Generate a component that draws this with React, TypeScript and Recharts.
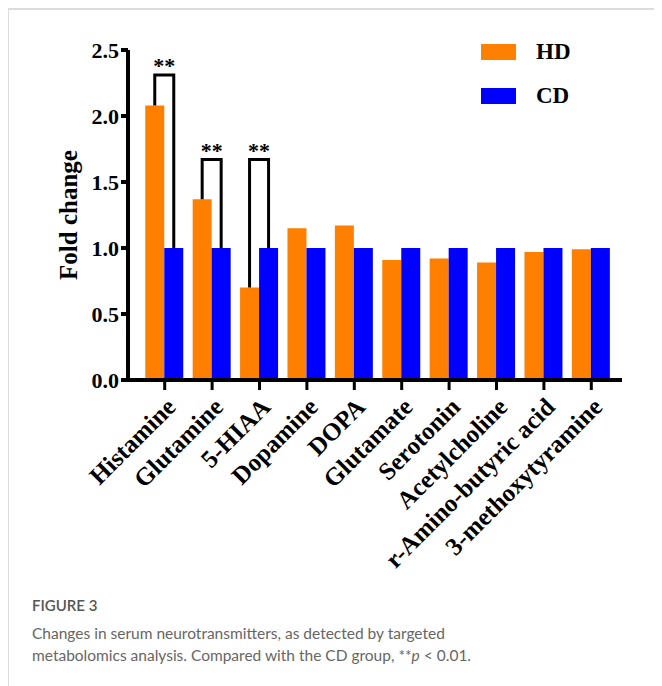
import React from 'react';
import { BarChart, Bar, XAxis, YAxis, LabelList } from 'recharts';

const categories = [
  'Histamine',
  'Glutamine',
  '5-HIAA',
  'Dopamine',
  'DOPA',
  'Glutamate',
  'Serotonin',
  'Acetylcholine',
  'r-Amino-butyric acid',
  '3-methoxytyramine',
];
const hdValues = [2.08, 1.37, 0.7, 1.15, 1.17, 0.91, 0.92, 0.89, 0.97, 0.99];
const cdValues = [1, 1, 1, 1, 1, 1, 1, 1, 1, 1];
// height of the significance bracket (in fold-change units), null = none
const bracketLevels = [2.31, 1.67, 1.67, null, null, null, null, null, null, null];
const sigMarks = ['**', '**', '**', '', '', '', '', '', '', ''];
const yTicks = [0, 0.5, 1.0, 1.5, 2.0, 2.5];
const seriesNames = ['HD', 'CD'];

const HD_COLOR = '#ff7f00';
const CD_COLOR = '#0000ff';
const SERIF = '"Liberation Serif", "Times New Roman", serif';

const data = categories.map((name, i) => ({ name, HD: hdValues[i], CD: cdValues[i] }));

const renderBracket = (props: any) => {
  const { x, y, width, height, value, index } = props;
  const level = bracketLevels[index];
  if (level == null) return null;
  const v = Number(value);
  const base = Number(y) + Number(height);
  const ppu = Number(height) / v;
  const topY = base - level * ppu;
  const cdY = base - cdValues[index] * ppu;
  const x1 = Number(x) + Number(width) / 2;
  const x2 = Number(x) + Number(width) * 1.5;
  return (
    <g>
      <path
        d={`M${x1},${Number(y)} L${x1},${topY} L${x2},${topY} L${x2},${cdY}`}
        fill="none"
        stroke="#000"
        strokeWidth={3}
      />
      <text
        x={(x1 + x2) / 2}
        y={topY - 2}
        textAnchor="middle"
        fontFamily={SERIF}
        fontWeight="bold"
        fontSize={22}
        fill="#000"
      >
        {sigMarks[index]}
      </text>
    </g>
  );
};

const XTick = (props: any) => {
  const { x, y, payload } = props;
  const tx = x;
  const ty = y + 4;
  return (
    <text
      x={tx}
      y={ty}
      transform={`rotate(-45 ${tx} ${ty})`}
      textAnchor="end"
      dominantBaseline="hanging"
      fontFamily={SERIF}
      fontWeight="bold"
      fontSize={25}
      fill="#000"
    >
      {payload.value}
    </text>
  );
};

const YLabel = (props: any) => {
  const { viewBox } = props;
  const cy = viewBox.y + viewBox.height / 2;
  const cx = 60;
  return (
    <text
      x={cx}
      y={cy}
      transform={`rotate(-90 ${cx} ${cy})`}
      textAnchor="middle"
      dominantBaseline="central"
      fontFamily={SERIF}
      fontWeight="bold"
      fontSize={25}
      fill="#000"
    >
      Fold change
    </text>
  );
};

const LegendBox = () => (
  <div
    style={{
      position: 'absolute',
      left: 473,
      top: 36,
      fontFamily: SERIF,
      fontWeight: 'bold',
      fontSize: 23,
      color: '#000',
    }}
  >
    {seriesNames.map((label, i) => (
      <div key={label} style={{ display: 'flex', alignItems: 'center', height: 16, marginBottom: i === 0 ? 28 : 0 }}>
        <div style={{ width: 35, height: 16, background: i === 0 ? HD_COLOR : CD_COLOR }} />
        <span style={{ marginLeft: 20, lineHeight: '16px' }}>{label}</span>
      </div>
    ))}
  </div>
);

export default function App() {
  return (
    <div style={{ position: 'relative', width: 654, height: 678, background: '#fff' }}>
      <div style={{ position: 'absolute', left: 0, top: 0, width: 654, height: 2, background: '#dcdcdc' }} />
      <div style={{ position: 'absolute', left: -1, top: 0, width: 2, height: 678, background: '#dcdcdc' }} />
      <div style={{ position: 'absolute', left: 0, top: 0 }}>
        <BarChart
          width={654}
          height={590}
          data={data}
          margin={{ top: 42, right: 40, bottom: 38, left: 0 }}
          barCategoryGap="9%"
          barGap={0}
        >
          <YAxis
            width={120}
            domain={[0, 2.5]}
            ticks={yTicks}
            tickFormatter={(v: number) => v.toFixed(1)}
            axisLine={{ stroke: '#000', strokeWidth: 4 }}
            tickLine={{ stroke: '#000', strokeWidth: 4 }}
            tickSize={7}
            tick={{ fontFamily: SERIF, fontWeight: 'bold', fontSize: 22, fill: '#000' }}
            label={<YLabel />}
          />
          <XAxis
            dataKey="name"
            height={180}
            interval={0}
            padding={{ left: 13, right: 7 }}
            axisLine={{ stroke: '#000', strokeWidth: 4 }}
            tickLine={{ stroke: '#000', strokeWidth: 3 }}
            tickSize={10}
            tick={<XTick />}
          />
          <Bar dataKey="HD" fill={HD_COLOR} isAnimationActive={false}>
            <LabelList dataKey="HD" content={renderBracket} />
          </Bar>
          <Bar dataKey="CD" fill={CD_COLOR} isAnimationActive={false} />
        </BarChart>
      </div>
      <LegendBox />
      <div
        style={{
          position: 'absolute',
          left: 24,
          top: 586,
          fontFamily: 'Lato, "Open Sans", sans-serif',
          color: '#666',
        }}
      >
        <div style={{ fontSize: 15, lineHeight: '22px', color: '#555', fontWeight: 600, marginBottom: 6 }}>FIGURE 3</div>
        <div style={{ fontSize: 15.5, lineHeight: '22px' }}>
          Changes in serum neurotransmitters, as detected by targeted
        </div>
        <div style={{ fontSize: 15.5, lineHeight: '22px' }}>
          metabolomics analysis. Compared with the CD group, **<i>p</i> &lt; 0.01.
        </div>
      </div>
    </div>
  );
}
